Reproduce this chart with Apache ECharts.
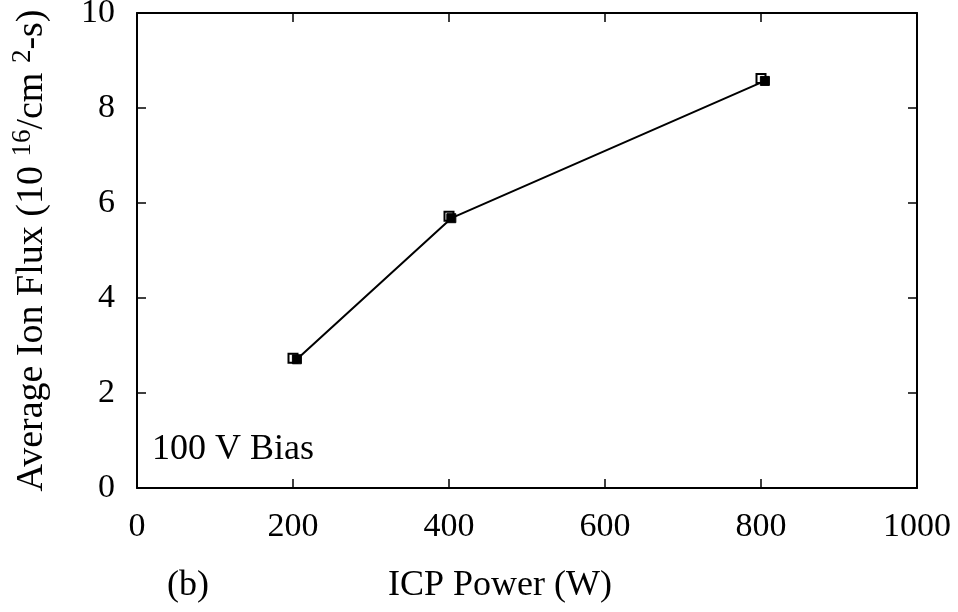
<!DOCTYPE html>
<html><head><meta charset="utf-8">
<script src="https://cdn.jsdelivr.net/npm/echarts@6/dist/echarts.min.js"></script>
<style>html,body{margin:0;padding:0;background:#fff}#c{width:958px;height:612px}</style>
</head><body><div id="c"></div>
<script>
const xTicks = [0, 200, 400, 600, 800, 1000];
const yTicks = [0, 2, 4, 6, 8, 10];
const openPower = [200, 400, 800];
const openFlux = [2.73, 5.72, 8.62];
const filledPower = [205, 403, 805];
const filledFlux = [2.71, 5.68, 8.57];

const F = 'Liberation Serif';
const chart = echarts.init(document.getElementById('c'));
const axisCommon = {
  axisLine: {onZero: false, lineStyle: {color: '#000', width: 2}},
  axisTick: {inside: true, length: 9, lineStyle: {color: '#000', width: 1.5}},
  splitLine: {show: false}
};
chart.setOption({
  animation: false,
  backgroundColor: '#fff',
  grid: {left: 137, right: 41, top: 13, bottom: 124, containLabel: false, outerBoundsMode: 'none'},
  xAxis: [
    Object.assign({type: 'value', min: xTicks[0], max: xTicks[xTicks.length-1], interval: 200,
      position: 'bottom',
      axisLabel: {fontFamily: F, fontSize: 34, color: '#000', margin: 22, formatter: v => String(v)}}, axisCommon),
    Object.assign({type: 'value', min: 0, max: 1000, interval: 200, position: 'top',
      axisLabel: {show: false}}, axisCommon)
  ],
  yAxis: [
    Object.assign({type: 'value', min: yTicks[0], max: yTicks[yTicks.length-1], interval: 2,
      position: 'left',
      name: '{n|Average Ion Flux (10 }{s|16}{n|/cm }{s|2}{n|-s)}', nameLocation: 'middle', nameGap: 86, nameRotate: 90,
      nameTextStyle: {rich: {
        n: {fontFamily: F, fontSize: 38, color: '#000', verticalAlign: 'bottom', lineHeight: 42},
        s: {fontFamily: F, fontSize: 27, color: '#000', verticalAlign: 'top', lineHeight: 42, padding: [0,0,16,0]}
      }},
      axisLabel: {fontFamily: F, fontSize: 34, color: '#000', margin: 22, padding: [6,0,0,0]}}, axisCommon),
    Object.assign({type: 'value', min: 0, max: 10, interval: 2, position: 'right',
      axisLabel: {show: false}}, axisCommon)
  ],
  series: [
    {type: 'line', data: openPower.map((p, i) => [p, openFlux[i]]),
     symbol: 'rect', symbolSize: 9, showSymbol: true,
     lineStyle: {width: 0, opacity: 0},
     itemStyle: {color: '#fff', borderColor: '#000', borderWidth: 2}, z: 3},
    {type: 'line', data: filledPower.map((p, i) => [p, filledFlux[i]]),
     symbol: 'rect', symbolSize: 9,
     lineStyle: {color: '#000', width: 2},
     itemStyle: {color: '#000', borderColor: '#000', borderWidth: 1}, z: 4}
  ],
  graphic: [
    {type: 'text', left: 152, top: 432, style: {text: '100 V Bias', font: '36px "Liberation Serif"', fill: '#000'}},
    {type: 'text', left: 167, top: 568, style: {text: '(b)', font: '36px "Liberation Serif"', fill: '#000'}},
    {type: 'text', left: 388, top: 568, style: {text: 'ICP Power (W)', font: '36px "Liberation Serif"', fill: '#000'}}
  ]
});
</script></body></html>
